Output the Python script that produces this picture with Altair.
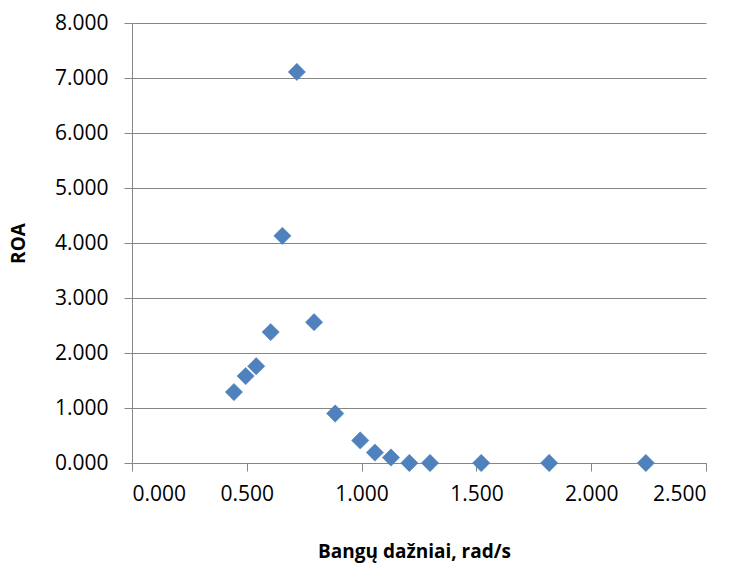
import altair as alt
import pandas as pd

freq = [0.444, 0.495, 0.541, 0.604, 0.655, 0.718, 0.793, 0.885, 0.994,
        1.058, 1.128, 1.208, 1.298, 1.521, 1.817, 2.238]
roa = [1.29, 1.58, 1.76, 2.38, 4.13, 7.11, 2.56, 0.90, 0.41,
       0.19, 0.10, 0.00, 0.00, 0.00, 0.00, 0.00]
x_ticks = [0.0, 0.5, 1.0, 1.5, 2.0, 2.5]
y_ticks = [0, 1, 2, 3, 4, 5, 6, 7, 8]

df = pd.DataFrame({"freq": freq, "roa": roa})

FONT = "Open Sans"
GRAY = "#868686"

chart = alt.Chart(df).mark_point(
    shape="diamond", filled=True, size=300, color="#4F81BD", opacity=1,
    stroke="#4A7EBB", strokeWidth=0.5
).encode(
    x=alt.X("freq:Q", scale=alt.Scale(domain=[0, 2.5], nice=False),
            axis=alt.Axis(values=x_ticks, format=".3f", grid=False,
                          title="Bangų dažniai, rad/s",
                          domainColor=GRAY, tickColor=GRAY, tickSize=8,
                          labelFont=FONT, labelFontSize=21, labelColor="#000000",
                          labelPadding=12,
                          titleFont=FONT, titleFontSize=19, titleFontWeight="bold",
                          titleColor="#000000", titleX=282, titleY=88,
                          titleAlign="center", titleBaseline="middle")),
    y=alt.Y("roa:Q", scale=alt.Scale(domain=[0, 8], nice=False),
            axis=alt.Axis(values=y_ticks, format=".3f", grid=True,
                          gridColor=GRAY, gridWidth=1,
                          title="ROA",
                          domainColor=GRAY, tickColor=GRAY, tickSize=8,
                          labelFont=FONT, labelFontSize=21, labelColor="#000000",
                          labelPadding=16,
                          titleFont=FONT, titleFontSize=19, titleFontWeight="bold",
                          titleColor="#000000", titleX=-114, titleY=220,
                          titleAngle=270,
                          titleAlign="center", titleBaseline="middle")),
).properties(
    width=574, height=440,
    autosize=alt.AutoSizeParams(type="none"),
    padding={"left": 132, "top": 23, "right": 31, "bottom": 100},
    background="white",
).configure_view(strokeWidth=0)

chart.save("out.html", embed_options={"renderer": "svg", "actions": False})
